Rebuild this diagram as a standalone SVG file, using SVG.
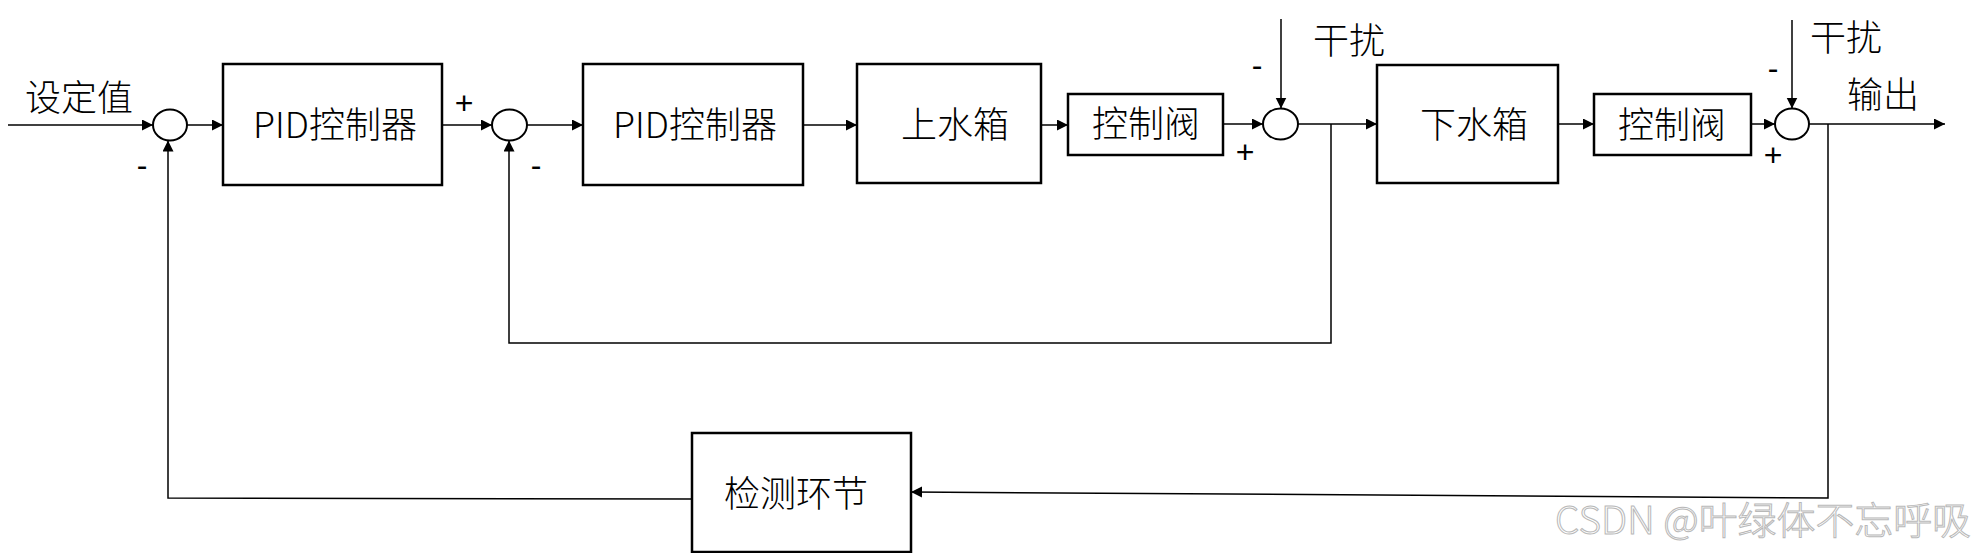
<svg xmlns="http://www.w3.org/2000/svg" width="1976" height="553" viewBox="0 0 1976 553">
<style>
.box{fill:#fff;stroke:#000;stroke-width:2.5}
.sum{fill:#fff;stroke:#000;stroke-width:2}
.ln{fill:none;stroke:#000;stroke-width:1.5}
.t{font-family:"Noto Sans CJK SC","Microsoft YaHei",sans-serif;font-size:36px;font-weight:300;fill:#000;text-anchor:middle}
.s{font-family:"Liberation Sans",Arial,sans-serif;font-size:32px;fill:#000;text-anchor:middle}
.wm{font-family:"Noto Sans CJK SC",sans-serif;font-size:38px;font-weight:300;fill:#fff;stroke:#b8b8b8;stroke-width:1}
</style>
<defs>
<marker id="ah" markerUnits="userSpaceOnUse" markerWidth="12" markerHeight="12" refX="11" refY="5.5" orient="auto">
<path d="M0,0 L11,5.5 L0,11 z" fill="#000"/>
</marker>
</defs>
<rect width="1976" height="553" fill="#fff"/>
<g id="connectors">
<line class="ln" x1="8" y1="125" x2="153" y2="125" marker-end="url(#ah)"/>
<line class="ln" x1="187" y1="125" x2="223" y2="125" marker-end="url(#ah)"/>
<line class="ln" x1="442" y1="125" x2="492" y2="125" marker-end="url(#ah)"/>
<line class="ln" x1="527" y1="125" x2="583" y2="125" marker-end="url(#ah)"/>
<line class="ln" x1="803" y1="125" x2="857" y2="125" marker-end="url(#ah)"/>
<line class="ln" x1="1041" y1="125" x2="1068" y2="125" marker-end="url(#ah)"/>
<line class="ln" x1="1223" y1="124" x2="1263" y2="124" marker-end="url(#ah)"/>
<line class="ln" x1="1281" y1="19" x2="1281" y2="108.5" marker-end="url(#ah)"/>
<line class="ln" x1="1298" y1="124" x2="1377" y2="124" marker-end="url(#ah)"/>
<polyline class="ln" points="1331,124 1331,343 509,343 509,140.5" marker-end="url(#ah)"/>
<line class="ln" x1="1558" y1="124" x2="1594" y2="124" marker-end="url(#ah)"/>
<line class="ln" x1="1751" y1="124" x2="1775" y2="124" marker-end="url(#ah)"/>
<line class="ln" x1="1792" y1="20" x2="1792" y2="108.5" marker-end="url(#ah)"/>
<line class="ln" x1="1809" y1="124" x2="1945" y2="124" marker-end="url(#ah)"/>
<polyline class="ln" points="1828,124 1828,498 911,492" marker-end="url(#ah)"/>
<polyline class="ln" points="692,499 168,498 168,140.5" marker-end="url(#ah)"/>
</g>
<g id="sum1"><ellipse class="sum" cx="170" cy="125" rx="17" ry="15.5"/></g>
<g id="sum2"><ellipse class="sum" cx="509.5" cy="125" rx="17.5" ry="15.5"/></g>
<g id="sum3"><ellipse class="sum" cx="1280.5" cy="124" rx="17.5" ry="15.5"/></g>
<g id="sum4"><ellipse class="sum" cx="1792" cy="124" rx="17" ry="15.5"/></g>
<g id="pid1"><rect class="box" x="223" y="64" width="219" height="121"/><text class="t" x="335" y="138">PID控制器</text></g>
<g id="pid2"><rect class="box" x="583" y="64" width="220" height="121"/><text class="t" x="695" y="138">PID控制器</text></g>
<g id="upper-tank"><rect class="box" x="857" y="64" width="184" height="119"/><text class="t" x="955" y="138">上水箱</text></g>
<g id="valve1"><rect class="box" x="1068" y="94" width="155" height="61"/><text class="t" x="1146" y="137">控制阀</text></g>
<g id="lower-tank"><rect class="box" x="1377" y="65" width="181" height="118"/><text class="t" x="1474" y="138">下水箱</text></g>
<g id="valve2"><rect class="box" x="1594" y="94" width="157" height="61"/><text class="t" x="1672" y="138">控制阀</text></g>
<g id="sensor"><rect class="box" x="692" y="433" width="219" height="119"/><text class="t" x="796" y="507">检测环节</text></g>
<g id="labels">
<text class="t" x="79" y="111">设定值</text>
<text class="t" x="1349" y="54">干扰</text>
<text class="t" x="1846" y="51">干扰</text>
<text class="t" x="1883" y="108">输出</text>
<text class="s" x="142" y="176">-</text>
<text class="s" x="464" y="114">+</text>
<text class="s" x="536" y="176">-</text>
<text class="s" x="1257" y="76">-</text>
<text class="s" x="1245" y="163">+</text>
<text class="s" x="1773" y="79">-</text>
<text class="s" x="1773" y="166">+</text>
</g>
<text class="wm" x="1555" y="534" textLength="416" lengthAdjust="spacingAndGlyphs">CSDN @叶绿体不忘呼吸</text>
</svg>
